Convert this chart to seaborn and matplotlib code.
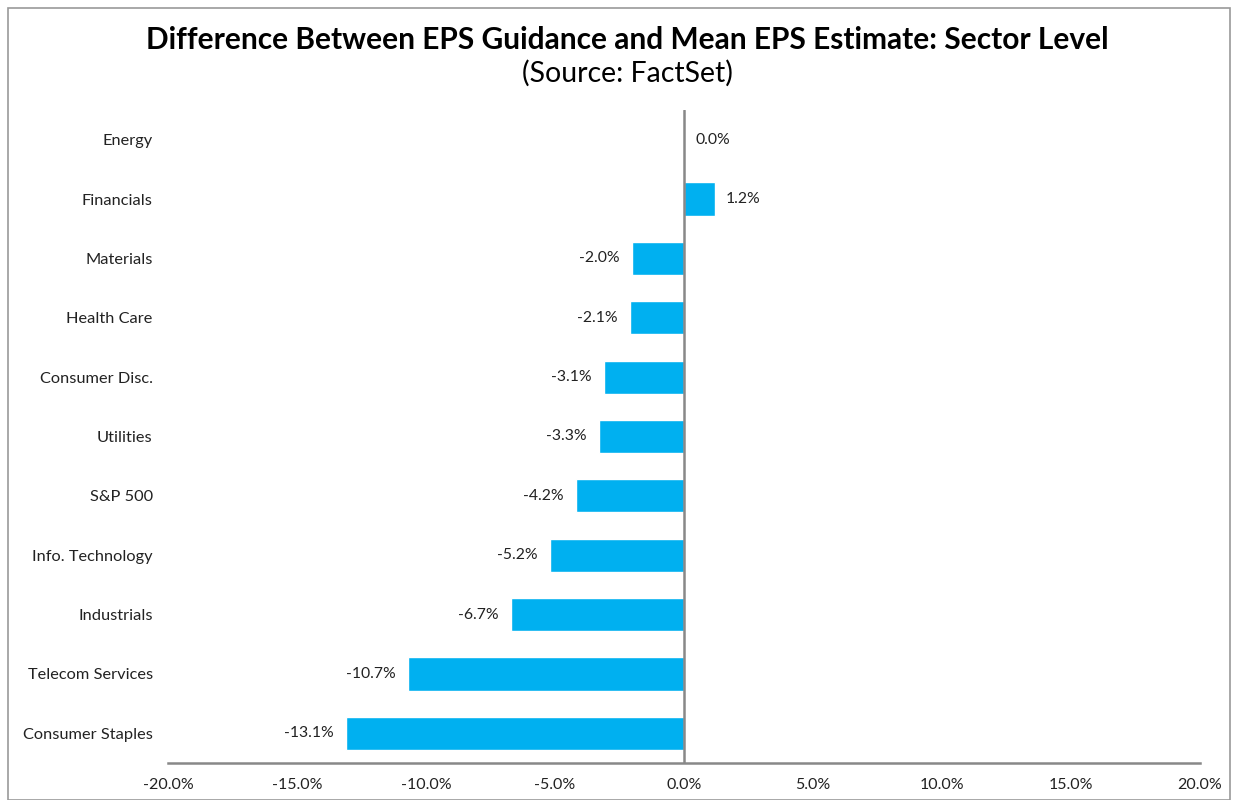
import matplotlib
matplotlib.use("Agg")
import matplotlib.pyplot as plt
import matplotlib.patches as mpatches
import seaborn as sns
import pandas as pd

sectors = ["Energy", "Financials", "Materials", "Health Care", "Consumer Disc.",
           "Utilities", "S&P 500", "Info. Technology", "Industrials",
           "Telecom Services", "Consumer Staples"]
values = [0.0, 1.2, -2.0, -2.1, -3.1, -3.3, -4.2, -5.2, -6.7, -10.7, -13.1]
xticks = [-20, -15, -10, -5, 0, 5, 10, 15, 20]

sns.set_theme(style="white")
plt.rcParams['font.family'] = ['Lato', 'DejaVu Sans']

fig = plt.figure(figsize=(12.38, 8), dpi=100)
ax = fig.add_axes([168/1238, 1-763/800, (1200-168)/1238, (763-110)/800])

df = pd.DataFrame({"sector": sectors, "value": values})
sns.barplot(data=df, x="value", y="sector", orient="h", color="#00B0F0",
            saturation=1, width=0.56, ax=ax, order=sectors)

ax.set_xlim(-20, 20)
ax.set_ylim(len(sectors) - 0.5, -0.5)
ax.set_xticks(xticks)
ax.set_xticklabels([f"{t:.1f}%" for t in xticks], fontsize=11.5, color="#222222")
ax.tick_params(axis="x", length=0, pad=11)
ax.tick_params(axis="y", length=0, pad=11)
for lab in ax.get_yticklabels():
    lab.set_fontsize(11.8)
    lab.set_color("#222222")
ax.set_xlabel("")
ax.set_ylabel("")

for s in ["top", "right", "left"]:
    ax.spines[s].set_visible(False)
ax.spines["bottom"].set_color("#888888")
ax.spines["bottom"].set_linewidth(1.8)
ax.axvline(0, color="#888888", lw=1.8, zorder=3)

for i, v in enumerate(values):
    if v < 0:
        ax.annotate(f"{v:.1f}%", (v, i), xytext=(-9, 0), textcoords="offset points",
                    ha="right", va="center", fontsize=11.3, color="#222222")
    else:
        ax.annotate(f"{v:.1f}%", (v, i), xytext=(8, 0), textcoords="offset points",
                    ha="left", va="center", fontsize=11.3, color="#222222")

fig.text(627/1238, 1-40/800, "Difference Between EPS Guidance and Mean EPS Estimate: Sector Level",
         ha="center", va="center", fontsize=21.5, fontweight="bold", color="black")
fig.text(627/1238, 1-73/800, "(Source: FactSet)", ha="center", va="center",
         fontsize=20.5, color="black")

fig.patches.append(mpatches.Rectangle((8/1238, 0), (1230-8)/1238, 1-8/800,
                                      transform=fig.transFigure, fill=False,
                                      edgecolor="#999999", lw=1.2))

fig.savefig("out.png", dpi=100)
